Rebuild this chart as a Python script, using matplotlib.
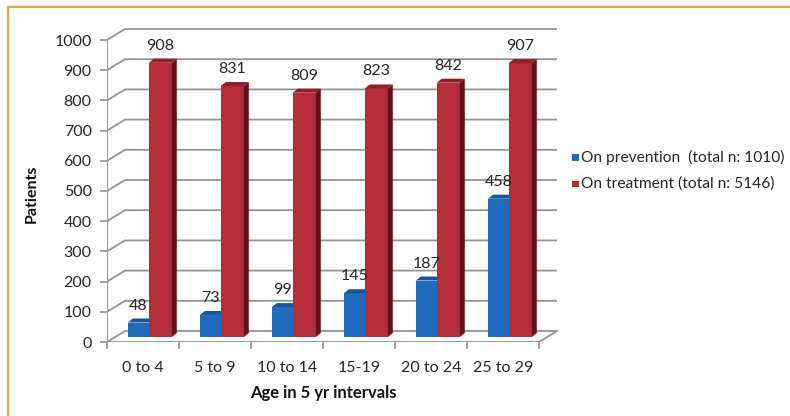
import matplotlib
matplotlib.use("Agg")
import matplotlib.pyplot as plt
from matplotlib.patches import Polygon, Rectangle
from matplotlib.lines import Line2D

plt.rcParams["font.family"] = ["Lato", "DejaVu Sans"]

# Data
age_groups = ["0 to 4", "5 to 9", "10 to 14", "15-19", "20 to 24", "25 to 29"]
on_prevention = [48, 73, 99, 145, 187, 458]
on_treatment = [908, 831, 809, 823, 842, 907]
series_names = ["On prevention  (total n: 1010)", "On treatment (total n: 5146)"]
y_ticks = list(range(0, 1001, 100))

# Colours
BLUE_FRONT, BLUE_TOP, BLUE_SIDE = "#1f6cbd", "#175596", "#0f3f72"
RED_FRONT, RED_TOP, RED_SIDE = "#b42d38", "#8f1f28", "#6a0f16"
GRID = "#939393"
TEXT = "#262626"

W, H, DPI = 790, 416, 100
fig = plt.figure(figsize=(W / DPI, H / DPI), dpi=DPI)
fig.patch.set_facecolor("white")

# Axes placement (pixel geometry of the plot area)
px_per_cat = 72.0
px_per_unit = 0.302
x_max, y_max = 6.3, 1050
left_px, zero_px = 107, 342
ax = fig.add_axes([left_px / W, (H - zero_px) / H,
                   x_max * px_per_cat / W, y_max * px_per_unit / H])
ax.set_xlim(0, x_max)
ax.set_ylim(0, y_max)
for s in ax.spines.values():
    s.set_visible(False)

# Perspective offsets for the floor/walls and for the bars
DX, DY = 18 / px_per_cat, 11 / px_per_unit
BAR_DX, BAR_DY = 5 / px_per_cat, 4 / px_per_unit
BAR_BASE = 5 / px_per_unit

# Walls: left wall diagonals and back wall gridlines
for v in y_ticks:
    ax.plot([0, DX, len(age_groups) + DX], [v, v + DY, v + DY],
            color=GRID, lw=1.3, zorder=1, solid_capstyle="butt")
# Floor front and right edges, y axis line
ax.plot([0, len(age_groups), len(age_groups) + DX], [0, 0, DY],
        color=GRID, lw=1.3, zorder=1)
ax.plot([0, 0], [0, 1000], color=GRID, lw=1.3, zorder=1)


def draw_bar(x0, x1, value, front, top, side, show_side):
    b = BAR_BASE
    ax.bar(x0, value, width=x1 - x0, bottom=b, align="edge",
           color=front, edgecolor="none", zorder=3)
    ax.add_patch(Polygon([(x0, b + value), (x1, b + value),
                          (x1 + BAR_DX, b + value + BAR_DY),
                          (x0 + BAR_DX, b + value + BAR_DY)],
                         closed=True, facecolor=top, edgecolor="none", zorder=3))
    if show_side:
        ax.add_patch(Polygon([(x1, b), (x1, b + value),
                              (x1 + BAR_DX, b + value + BAR_DY),
                              (x1 + BAR_DX, b + BAR_DY)],
                             closed=True, facecolor=side, edgecolor="none", zorder=3))


label_gap = 17 / px_per_unit
for i, (p, t) in enumerate(zip(on_prevention, on_treatment)):
    bx0, bx1 = i + 0.29, i + 0.58
    rx0, rx1 = i + 0.58, i + 0.90
    draw_bar(bx0, bx1, p, BLUE_FRONT, BLUE_TOP, BLUE_SIDE, False)
    draw_bar(rx0, rx1, t, RED_FRONT, RED_TOP, RED_SIDE, True)
    ax.text((bx0 + bx1) / 2, BAR_BASE + p + label_gap, str(p),
            ha="center", va="center", fontsize=11.5, color=TEXT, zorder=4)
    ax.text((rx0 + rx1) / 2, BAR_BASE + t + label_gap, str(t),
            ha="center", va="center", fontsize=11.5, color=TEXT, zorder=4)

# Ticks
ax.set_yticks(y_ticks)
ax.set_yticklabels([str(v) for v in y_ticks], fontsize=11.5, color=TEXT)
ax.set_xticks(range(len(age_groups) + 1))
ax.set_xticklabels([])
ax.set_xticks([i + 0.5 for i in range(len(age_groups))], minor=True)
ax.set_xticklabels(age_groups, minor=True, fontsize=11.5, color=TEXT)
ax.tick_params(axis="y", direction="out", length=5, width=1.2, color=GRID, pad=6)
ax.tick_params(axis="x", which="major", direction="out", length=5, width=1.2, color=GRID)
ax.tick_params(axis="x", which="minor", length=0, pad=14)

# Axis titles
fig.text(32 / W, 1 - 194 / H, "Patients", rotation=90, ha="center", va="center",
         fontsize=11.5, fontweight="bold", color="#111111")
fig.text(323 / W, 1 - 393 / H, "Age in 5 yr intervals", ha="center", va="center",
         fontsize=12, fontweight="bold", color="#111111")

# Legend: small colour squares followed by the series names
legend_rows_px = [157.5, 184]
for name, color, y_px in zip(series_names, [BLUE_FRONT, RED_FRONT], legend_rows_px):
    sq = 6.5
    fig.add_artist(Rectangle((572 / W, 1 - (y_px + sq / 2) / H), sq / W, sq / H,
                             transform=fig.transFigure, facecolor=color,
                             edgecolor="none"))
    fig.text(581 / W, 1 - y_px / H, name, ha="left", va="center",
             fontsize=11.2, color=TEXT)

# Orange frame along the top and left edges
fig.add_artist(Line2D([8 / W, 8 / W], [0, 1 - 7 / H], transform=fig.transFigure,
                      color="#e9a443", lw=1.6))
fig.add_artist(Line2D([8 / W, 1], [1 - 7 / H, 1 - 7 / H], transform=fig.transFigure,
                      color="#e9a443", lw=1.6))

fig.savefig("out.png", dpi=DPI)
